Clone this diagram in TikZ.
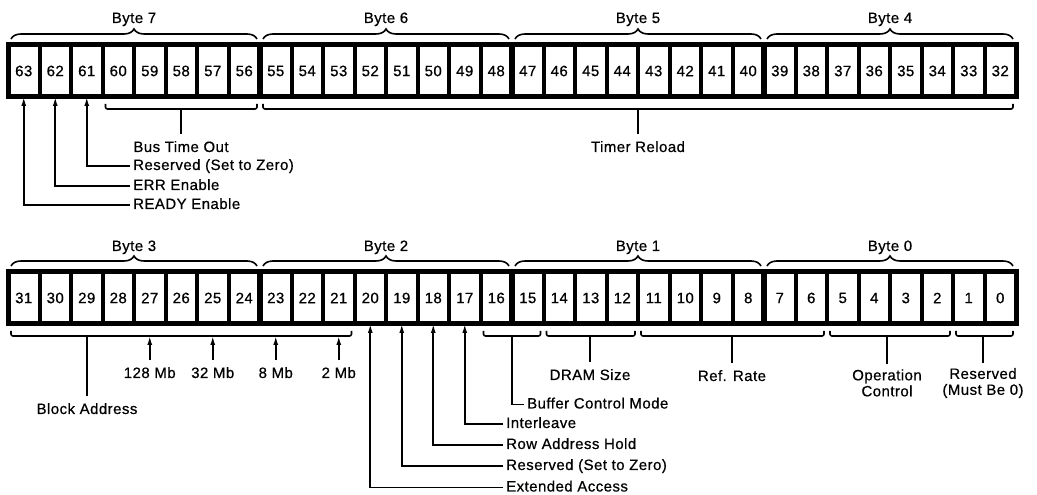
\documentclass[tikz,border=0pt]{standalone}
\usepackage{fontspec}
\setmainfont{Liberation Sans}[FakeBold=0.6, LetterSpace=3]
\usetikzlibrary{decorations.pathreplacing,arrows.meta,calc}

\begin{document}
\begin{tikzpicture}[x=1pt,y=1pt,
  font=\fontsize{15}{16}\selectfont,
  cell/.style={draw, line width=4pt, minimum width=31.5pt, minimum height=52pt, inner sep=0pt, outer sep=0pt},
  frame/.style={line width=5pt},
  bytesep/.style={line width=6.5pt},
  thin/.style={line width=1.6pt},
  bytebrace/.style={thin, decorate, decoration={brace, amplitude=10pt}},
  bracket/.style={thin, rounded corners=2pt},
  tip/.style={thin, -{Latex[length=9pt,width=5pt]}},
  lbl/.style={inner xsep=3pt, inner ysep=7pt, text height=11pt, text depth=3pt},
  lbltwo/.style={inner sep=5pt, align=center}]
  \useasboundingbox (0,0) rectangle (1037,495);
  \coordinate (ktop) at (0,386);
  \coordinate (kbot) at (0,159);

  % upper register, bits 63..32
  \foreach \i in {0,...,31} {
    \pgfmathtruncatemacro\bit{63-\i}
    \node[cell] (b\bit) at ({23.75+31.5*\i},424) {\bit};
  }
  \draw[frame] (b63.north west) rectangle (b32.south east);
  \foreach \b in {56,48,40}
    \draw[bytesep] (b\b.north east) -- (b\b.south east);
  \foreach \hi/\mid/\lo/\n in {63/60/56/7,55/52/48/6,47/44/40/5,39/36/32/4} {
    \draw[bytebrace] ($(b\hi.north west)+(3,6)$) -- ($(b\lo.north east)+(-3,6)$);
    \node[lbl] (byte\n) at ($(b\mid.north east)+(0,26)$) {Byte \n};
  }
  \foreach \a/\b in {60/56,55/32}
    \draw[bracket] ($(b\a.south west)+(3,-7)$) -- ++(0,-5) -| ($(b\b.south east)+(-3,-7)$);

  \node[lbl] (lbus) at (181,347) {Bus Time Out};
  \node[lbl] (ltimer) at (638,347) {Timer Reload};
  \draw[thin] (lbus) -- (lbus |- ktop);
  \draw[thin] (ltimer) -- (ltimer |- ktop);

  \node[lbl, anchor=west] (lzero) at (130,329) {Reserved (Set to Zero)};
  \node[lbl, anchor=west] (lerr) at (130,309) {ERR Enable};
  \node[lbl, anchor=west] (lready) at (130,290) {READY Enable};
  \draw[tip] (lzero.west) -| (b61.south);
  \draw[tip] (lerr.west) -| (b62.south);
  \draw[tip] (lready.west) -| (b63.south);

  % lower register, bits 31..0
  \foreach \i in {0,...,31} {
    \pgfmathtruncatemacro\bit{31-\i}
    \node[cell] (b\bit) at ({23.75+31.5*\i},197) {\bit};
  }
  \draw[frame] (b31.north west) rectangle (b0.south east);
  \foreach \b in {24,16,8}
    \draw[bytesep] (b\b.north east) -- (b\b.south east);
  \foreach \hi/\mid/\lo/\n in {31/28/24/3,23/20/16/2,15/12/8/1,7/4/0/0} {
    \draw[bytebrace] ($(b\hi.north west)+(3,6)$) -- ($(b\lo.north east)+(-3,6)$);
    \node[lbl] (byte\n) at ($(b\mid.north east)+(0,25)$) {Byte \n};
  }
  \foreach \a/\b in {31/21,16/15,14/12,11/6,5/2,1/0}
    \draw[bracket] ($(b\a.south west)+(3,-7)$) -- ++(0,-5) -| ($(b\b.south east)+(-3,-7)$);

  \node[lbl] (lblock) at (87,85) {Block Address};
  \draw[thin] (lblock) -- (lblock |- kbot);
  \node[lbl] (l128) at (b27 |- 0,121) {128 Mb};
  \node[lbl] (l32) at (b25 |- 0,121) {32 Mb};
  \node[lbl] (l8) at (b23 |- 0,121) {8 Mb};
  \node[lbl] (l2) at (b21 |- 0,121) {2 Mb};
  \foreach \m in {128,32,8,2}
    \draw[tip] (l\m) -- (l\m |- kbot);

  \node[lbl] (ldram) at (590,119) {DRAM Size};
  \node[lbl] (lref) at (732,118) {Ref. Rate};
  \node[lbltwo] (lop) at (887,112) {Operation\\Control};
  \node[lbltwo] (lmust) at (983,112) {Reserved\\(Must Be 0)};
  \draw[thin] (ldram) -- (ldram |- kbot);
  \draw[thin] (lref) -- (lref |- kbot);
  \draw[thin] (lop) -- (lop |- kbot);
  \draw[thin] (lmust) -- (lmust |- kbot);

  \node[lbl, anchor=west] (lbuf) at (524,90.5) {Buffer Control Mode};
  \coordinate (kbuf) at (b16.south east |- kbot);
  \draw[thin] (kbuf) |- (lbuf.west);

  \node[lbl, anchor=west] (linter) at (503,71) {Interleave};
  \node[lbl, anchor=west] (lrow) at (503,50) {Row Address Hold};
  \node[lbl, anchor=west] (lzerob) at (503,29) {Reserved (Set to Zero)};
  \node[lbl, anchor=west] (lext) at (503,7.5) {Extended Access};
  \draw[tip] (linter.west) -| (b17.south);
  \draw[tip] (lrow.west) -| (b18.south);
  \draw[tip] (lzerob.west) -| (b19.south);
  \draw[tip] (lext.west) -| (b20.south);
\end{tikzpicture}
\end{document}
